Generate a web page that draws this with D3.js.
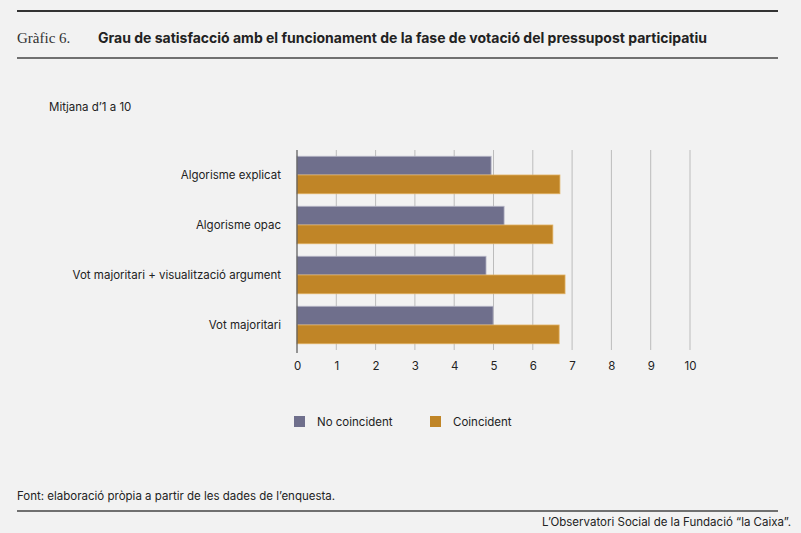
<!DOCTYPE html>
<html><head><meta charset="utf-8">
<script src="https://cdn.jsdelivr.net/npm/d3@7"></script>
<style>body{margin:0;background:#f2f2f2;}svg{display:block;font-family:Inter,"Noto Sans",sans-serif;}</style>
</head><body><svg width="801" height="533"></svg>
<script>
var categories = ["Algorisme explicat", "Algorisme opac", "Vot majoritari + visualització argument", "Vot majoritari"];
var seriesNames = ["No coincident", "Coincident"];
var noCoincident = [4.94, 5.27, 4.81, 4.99];
var coincident = [6.69, 6.51, 6.82, 6.67];
var ticks = [0,1,2,3,4,5,6,7,8,9,10];
var colors = ["#6f6f8c", "#c08527"];

var svg = d3.select("svg");
svg.append("rect").attr("width",801).attr("height",533).attr("fill","#f2f2f2");
svg.append("line").attr("x1",17).attr("x2",778).attr("y1",11).attr("y2",11).attr("stroke","#333").attr("stroke-width",2);
svg.append("line").attr("x1",17).attr("x2",778).attr("y1",58).attr("y2",58).attr("stroke","#444").attr("stroke-width",1.5);
svg.append("line").attr("x1",17).attr("x2",778).attr("y1",511).attr("y2",511).attr("stroke","#444").attr("stroke-width",1.5);
svg.append("text").attr("x",17).attr("y",43).attr("font-family","'Liberation Serif',serif").attr("font-size",15).attr("fill","#333").text("Gràfic 6.");
svg.append("text").attr("x",98).attr("y",43).attr("font-size",14).attr("font-weight","bold").attr("fill","#222").text("Grau de satisfacció amb el funcionament de la fase de votació del pressupost participatiu");
svg.append("text").attr("x",49).attr("y",111).attr("font-size",11.5).attr("fill","#222").text("Mitjana d’1 a 10");
svg.append("text").attr("x",17).attr("y",500).attr("font-size",11.5).attr("fill","#222").text("Font: elaboració pròpia a partir de les dades de l’enquesta.");
svg.append("text").attr("x",791).attr("y",526).attr("text-anchor","end").attr("font-size",11.5).attr("fill","#222").text("L’Observatori Social de la Fundació “la Caixa”.");

var x = d3.scaleLinear().domain([0,10]).range([297,690]);
var y = d3.scaleBand().domain(categories).range([150,350]).paddingInner(0.25).paddingOuter(0.125);
var inner = d3.scaleBand().domain(seriesNames).range([0,y.bandwidth()]);

svg.append("g").selectAll("line").data(ticks.slice(1)).join("line")
  .attr("x1",d=>x(d)).attr("x2",d=>x(d)).attr("y1",150).attr("y2",350).attr("stroke","#bcbcbc");

var data = categories.map((c,i)=>({c:c,v:[noCoincident[i],coincident[i]]}));
var g = svg.append("g").selectAll("g").data(data).join("g").attr("transform",d=>"translate(0,"+y(d.c)+")");
g.selectAll("rect").data(d=>d.v.map((v,j)=>({v:v,s:seriesNames[j],j:j}))).join("rect")
  .attr("x",x(0)).attr("y",d=>inner(d.s)).attr("width",d=>x(d.v)-x(0)).attr("height",inner.bandwidth())
  .attr("fill",d=>colors[d.j]).attr("stroke",d=>d.j?"#e0b060":"#b8b8c8").attr("stroke-width",0.8);

svg.append("g").selectAll("text").data(categories).join("text")
  .attr("x",281).attr("y",d=>y(d)+y.bandwidth()/2+4).attr("text-anchor","end").attr("font-size",11.5).attr("fill","#222").text(d=>d);

svg.append("line").attr("x1",297).attr("x2",297).attr("y1",150).attr("y2",353).attr("stroke","#555").attr("stroke-width",1.2);
var ax = svg.append("g").attr("transform","translate(0,350)").call(d3.axisBottom(x).tickValues(ticks).tickSize(0).tickPadding(12));
ax.select(".domain").remove();
ax.selectAll("text").attr("font-size",11.5).attr("fill","#222").attr("font-family","Inter,'Noto Sans',sans-serif");

var lg = svg.append("g").selectAll("g").data(seriesNames).join("g").attr("transform",(d,i)=>"translate("+(294+i*136)+",416)");
lg.append("rect").attr("width",11).attr("height",11).attr("fill",(d,i)=>colors[i]);
lg.append("text").attr("x",23).attr("y",10).attr("font-size",11.5).attr("fill","#222").text(d=>d);
</script></body></html>
